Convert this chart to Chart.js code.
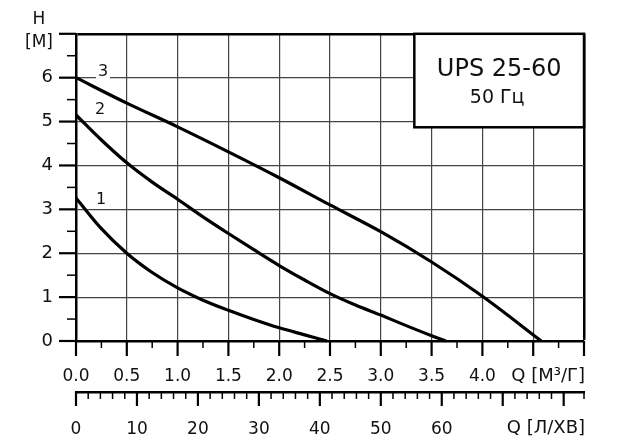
<!DOCTYPE html>
<html>
<head>
<meta charset="utf-8">
<script src="https://cdn.jsdelivr.net/npm/chart.js@4"></script>
<style>
  html, body { margin: 0; padding: 0; background: #fff; }
  canvas { display: block; }
</style>
</head>
<body>
<canvas id="pump-chart" width="634" height="447"></canvas>
<script>
// Pump curves UPS 25-60, speeds 1..3 (Q in m3/h, H in m)
var curveNames = ['1', '2', '3'];
var q1 = [0, 0.25, 0.5, 0.75, 1.0, 1.25, 1.5, 1.75, 2.0, 2.25, 2.47];
var h1 = [3.26, 2.56, 2.0, 1.56, 1.21, 0.93, 0.7, 0.49, 0.3, 0.14, 0];
var q2 = [0, 0.25, 0.5, 0.75, 1.0, 1.25, 1.5, 1.75, 2.0, 2.25, 2.5, 2.75, 3.0, 3.25, 3.5, 3.64];
var h2 = [5.15, 4.58, 4.06, 3.62, 3.23, 2.83, 2.45, 2.08, 1.72, 1.39, 1.08, 0.82, 0.59, 0.35, 0.12, 0];
var q3 = [0, 0.5, 1.0, 1.5, 2.0, 2.5, 3.0, 3.5, 4.0, 4.58];
var h3 = [6.0, 5.42, 4.88, 4.31, 3.72, 3.1, 2.49, 1.8, 1.02, 0];

var FONT = "'DejaVu Sans', 'Liberation Sans', Arial, sans-serif";
Chart.defaults.font.family = FONT;
Chart.defaults.color = '#111';

function pts(q, h) {
  return q.map(function(v, i) { return { x: v, y: h[i] }; });
}
function isStep(v, step) {
  return Math.abs(v / step - Math.round(v / step)) < 1e-6;
}

// label offsets for curve numbers, relative to curve start
var labelOffsets = [[25, 2], [24, -5], [27, -6]];

var extras = {
  id: 'extras',
  afterDatasetsDraw: function(chart) {
    var ctx = chart.ctx;
    ctx.save();
    // curve numbers
    ctx.font = '16px ' + FONT;
    ctx.textAlign = 'center';
    ctx.textBaseline = 'middle';
    chart.data.datasets.forEach(function(ds, i) {
      var p = chart.getDatasetMeta(i).data[0];
      var tx = p.x + labelOffsets[i][0], ty = p.y + labelOffsets[i][1];
      ctx.fillStyle = '#fff';
      ctx.fillRect(tx - 7, ty - 6, 14, 14);
      ctx.fillStyle = '#111';
      ctx.fillText(ds.label, tx, ty);
    });
    // model box
    var x = chart.scales.x, y = chart.scales.y;
    var left = x.getPixelForValue(3.33), right = x.getPixelForValue(5);
    var top = y.getPixelForValue(7), bottom = y.getPixelForValue(4.87);
    ctx.fillStyle = '#fff';
    ctx.fillRect(left, top, right - left, bottom - top);
    ctx.strokeStyle = '#000';
    ctx.lineWidth = 2.5;
    ctx.strokeRect(left, top, right - left, bottom - top);
    ctx.fillStyle = '#111';
    ctx.font = '24px ' + FONT;
    ctx.fillText('UPS 25-60', (left + right) / 2, top + 36);
    ctx.font = '19px ' + FONT;
    ctx.fillText('50 Гц', (left + right) / 2 - 2, top + 64);
    ctx.restore();
  },
  afterDraw: function(chart) {
    var ctx = chart.ctx, s = chart.scales;
    ctx.save();
    ctx.strokeStyle = '#000';
    function seg(x0, y0, x1, y1, w) {
      ctx.lineWidth = w;
      ctx.beginPath(); ctx.moveTo(x0, y0); ctx.lineTo(x1, y1); ctx.stroke();
    }
    s.x.ticks.forEach(function(t) {
      var px = s.x.getPixelForValue(t.value), major = isStep(t.value, 0.5);
      seg(px, s.x.top, px, s.x.top + (major ? 15 : 7), major ? 2.2 : 1.5);
    });
    s.y.ticks.forEach(function(t) {
      var py = s.y.getPixelForValue(t.value), major = isStep(t.value, 1);
      seg(s.y.right - (major ? 17 : 9), py, s.y.right, py, major ? 2.2 : 1.5);
    });
    s.x2.ticks.forEach(function(t) {
      var px = s.x2.getPixelForValue(t.value), major = isStep(t.value, 10);
      seg(px, s.x2.top, px, s.x2.top + (major ? 14 : 7), major ? 2.2 : 1.5);
    });
    // axis titles
    ctx.fillStyle = '#111';
    ctx.font = '17px ' + FONT;
    ctx.textAlign = 'center';
    ctx.textBaseline = 'middle';
    ctx.fillText('H', 39, 20);
    ctx.fillText('[М]', 39, 43);
    ctx.textAlign = 'right';
    ctx.font = '18px ' + FONT;
    ctx.fillText('Q [М³/Г]', s.x.right + 1, s.x.top + 35);
    ctx.fillText('Q [Л/ХВ]', s.x2.right + 1, s.x2.top + 36);
    ctx.restore();
  }
};

var styles = { borderColor: '#000', borderWidth: 3.2, pointRadius: 0, fill: false,
  cubicInterpolationMode: 'monotone', clip: 5 };

new Chart(document.getElementById('pump-chart'), {
  type: 'line',
  data: {
    datasets: [
      Object.assign({ label: curveNames[0], data: pts(q1, h1) }, styles),
      Object.assign({ label: curveNames[1], data: pts(q2, h2) }, styles),
      Object.assign({ label: curveNames[2], data: pts(q3, h3) }, styles)
    ]
  },
  options: {
    responsive: false,
    animation: false,
    layout: { padding: { left: 0, right: 50, top: 32, bottom: 0 } },
    plugins: { legend: { display: false }, tooltip: { enabled: false } },
    scales: {
      x: {
        type: 'linear', position: 'bottom', min: 0, max: 5,
        afterFit: function(sc) { sc.height = 51; },
        ticks: {
          stepSize: 0.25, autoSkip: false, maxRotation: 0, padding: 25,
          font: { size: 17 },
          callback: function(v) { return (isStep(v, 0.5) && v <= 4) ? v.toFixed(1) : ''; }
        },
        grid: {
          drawTicks: false,
          color: function(c) { return isStep(c.tick.value, 0.5) ? (c.tick.value >= 5 ? '#000' : '#444') : 'rgba(0,0,0,0)'; },
          lineWidth: function(c) { return c.tick.value >= 5 ? 2.5 : 1.2; }
        },
        border: { display: true, color: '#000', width: 2.5 }
      },
      x2: {
        type: 'linear', position: 'bottom', min: 0, max: 5 / 0.06,
        afterFit: function(sc) { sc.height = 55; },
        ticks: {
          stepSize: 2, autoSkip: false, maxRotation: 0, padding: 27,
          font: { size: 17 },
          callback: function(v) { return (isStep(v, 10) && v <= 60) ? String(v) : ''; }
        },
        grid: { display: false, drawTicks: false },
        border: { display: true, color: '#000', width: 2.5 }
      },
      y: {
        type: 'linear', min: 0, max: 7,
        afterFit: function(sc) { sc.width = 76; },
        ticks: {
          stepSize: 0.5, autoSkip: false, padding: 23,
          font: { size: 18 },
          callback: function(v) { return (isStep(v, 1) && v < 7) ? String(v) : ''; }
        },
        grid: {
          drawTicks: false,
          color: function(c) { return isStep(c.tick.value, 1) ? (c.tick.value >= 7 ? '#000' : '#444') : 'rgba(0,0,0,0)'; },
          lineWidth: function(c) { return c.tick.value >= 7 ? 2.5 : 1.2; }
        },
        border: { display: true, color: '#000', width: 2.5 }
      }
    }
  },
  plugins: [extras]
});
</script>
</body>
</html>
